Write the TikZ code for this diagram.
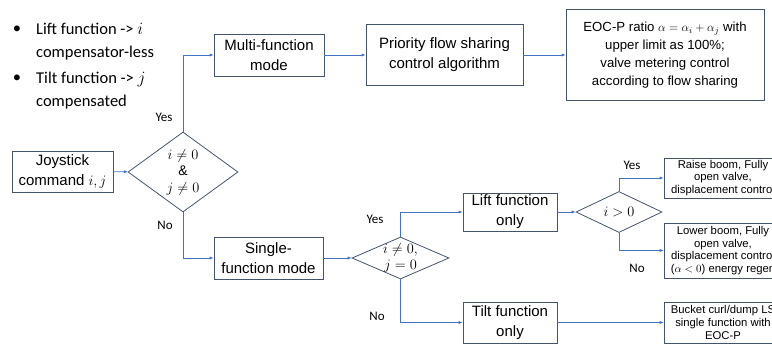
\documentclass[tikz,border=0pt]{standalone}
\usepackage{amsmath}
\usepackage{fontspec}
\setmainfont{Liberation Sans}
\newfontfamily\calfont{Carlito}
\usetikzlibrary{arrows.meta,shapes.geometric}

\definecolor{boxline}{HTML}{44546A}
\definecolor{flowblue}{HTML}{4472C4}

\tikzset{
  box/.style={draw=boxline, line width=0.8pt, align=center, inner sep=2pt, font=\fontsize{15}{20}\selectfont},
  smallbox/.style={draw=boxline, line width=0.8pt, minimum width=118, inner sep=0pt},
  smalltext/.style={align=center, inner sep=0pt, font=\fontsize{11.3}{12.8}\selectfont},
  decision/.style={diamond, draw=boxline, line width=0.8pt, inner sep=0pt},
  diatext/.style={align=center, inner sep=0pt, font=\fontsize{14}{16.5}\selectfont},
  flow/.style={draw=flowblue, line width=0.7pt, -{Latex[length=4pt,width=3.2pt]}},
  answer/.style={font=\calfont\fontsize{13}{15}\selectfont},
  listtext/.style={align=left, inner sep=0pt, font=\calfont\fontsize{16.5}{23}\selectfont},
}

\begin{document}
\begin{tikzpicture}[x=1pt, y=-1pt]
  \useasboundingbox (0,0) rectangle (772,346);
  \clip (0,0) rectangle (772,346);

  % bullet notes
  \node[listtext] (dot1) at (17,30) {\textbullet};
  \node[listtext, anchor=west] (item1) at (36,41.5) {Lift function -> $i$\\compensator-less};
  \node[listtext] (dot2) at (17,79) {\textbullet};
  \node[listtext, anchor=west] (item2) at (36,90.5) {Tilt function -> $j$\\compensated};

  % main chart
  \node[box, minimum width=101, minimum height=41] (joy) at (62.5,171.5) {Joystick\\command $i,j$};
  \node[decision, minimum width=110, minimum height=80,
        label={[diatext]center:{$i\neq0$\\\&\\$j\neq0$}}] (cond) at (183,172) {};
  \node[box, minimum width=110, minimum height=42] (multi) at (269,55) {Multi-function\\mode};
  \node[box, minimum width=157, minimum height=61] (prio) at (444.5,55) {Priority flow sharing\\control algorithm};
  \node[box, minimum width=198, minimum height=91, font=\fontsize{13.2}{18}\selectfont] (eoc) at (665,55)
       {EOC-P ratio $\alpha=\alpha_i+\alpha_j$ with\\upper limit as 100\%;\\valve metering control\\according to flow sharing};
  \node[box, minimum width=109, minimum height=42] (single) at (268.5,258) {Single-\\function mode};
  \node[decision, minimum width=97, minimum height=42,
        label={[diatext]center:{$i\neq0,$\\$j=0$}}] (single cond) at (400.5,258) {};
  \node[box, minimum width=94, minimum height=38] (lift) at (510,212) {Lift function\\only};
  \node[box, minimum width=94, minimum height=41] (tilt) at (510,322.5) {Tilt function\\only};
  \node[decision, minimum width=86, minimum height=41,
        label={[diatext]center:{$i>0$}}] (sign) at (619,212) {};
  \node[smallbox, minimum height=40,
        label={[smalltext]center:{Raise boom, Fully\\open valve,\\displacement control}}] (raise) at (723,178) {};
  \node[smallbox, minimum height=55,
        label={[smalltext]center:{Lower boom, Fully\\open valve,\\displacement control\\($\alpha<0$) energy regen}}] (lower) at (723,250.5) {};
  \node[smallbox, minimum height=41,
        label={[smalltext]center:{Bucket curl/dump LS\\single function with\\EOC-P}}] (bucket) at (723,322.5) {};

  % answers
  \node[answer] (yes1) at (164,117) {Yes};
  \node[answer] (no1) at (165,225) {No};
  \node[answer] (yes2) at (375,219) {Yes};
  \node[answer] (no2) at (377,316) {No};
  \node[answer] (yes3) at (632,165) {Yes};
  \node[answer] (no3) at (637,268) {No};

  % connectors
  \draw[flow] (joy) -- (cond);
  \draw[flow] (cond.north) |- (multi);
  \draw[flow] (cond.south) |- (single);
  \draw[flow] (multi) -- (prio);
  \draw[flow] (prio) -- (eoc);
  \draw[flow] (single) -- (single cond);
  \draw[flow] (single cond.north) |- (lift);
  \draw[flow] (single cond.south) |- (tilt);
  \draw[flow] (lift) -- (sign);
  \draw[flow] (sign.north) |- (raise);
  \draw[flow] (sign.south) |- (lower);
  \draw[flow] (tilt) -- (bucket);
\end{tikzpicture}
\end{document}
